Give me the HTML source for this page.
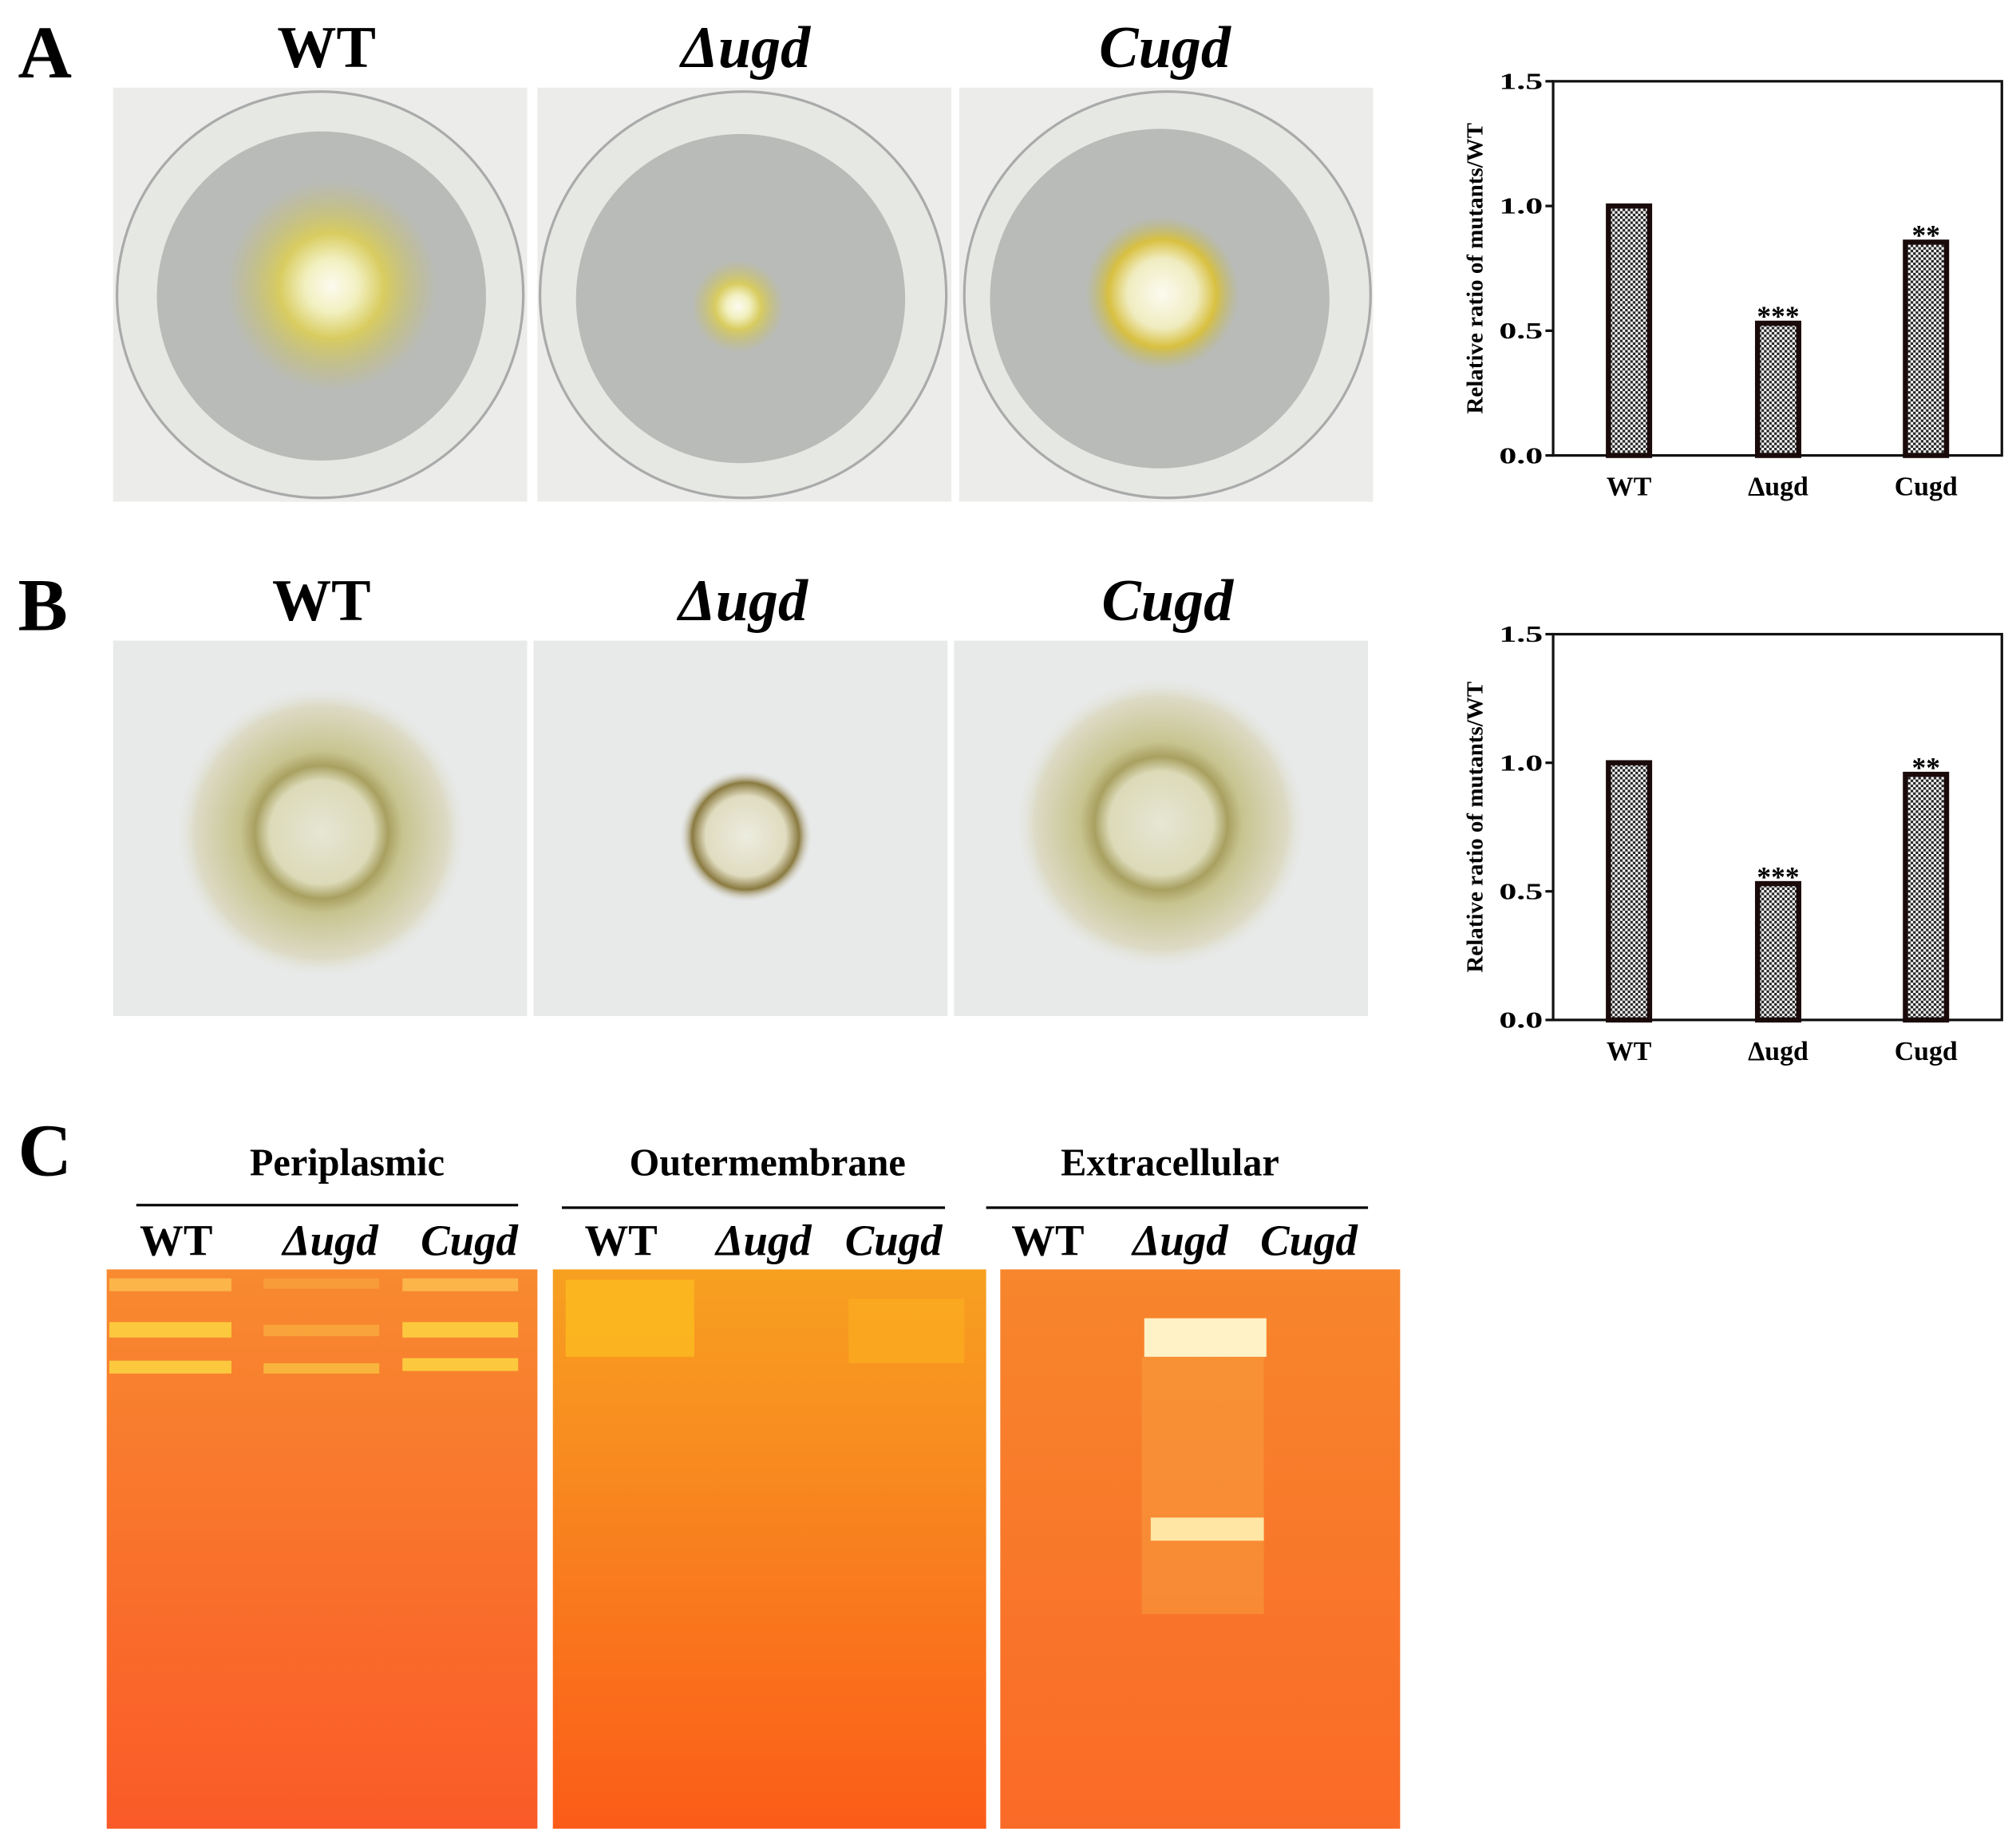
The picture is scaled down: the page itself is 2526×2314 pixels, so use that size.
<!DOCTYPE html>
<html><head><meta charset="utf-8"><style>
html,body{margin:0;padding:0;background:#fff;}
svg{display:block;}
text{font-family:"Liberation Serif",serif;font-weight:bold;}
</style></head><body>
<svg id="fig" width="2526" height="2314" viewBox="0 0 1568 1436" xmlns="http://www.w3.org/2000/svg">
<defs>
<pattern id="chk" width="4" height="4" patternUnits="userSpaceOnUse"><rect width="4" height="4" fill="#fff"/><rect width="2" height="2" fill="#222"/><rect x="2" y="2" width="2" height="2" fill="#222"/></pattern>
<radialGradient id="wtA"><stop offset="0" stop-color="#fbfbf0"/><stop offset="0.25" stop-color="#f2f0c0"/><stop offset="0.5" stop-color="#d8cc60"/><stop offset="1" stop-color="#c0bb6a" stop-opacity="0"/></radialGradient>
<radialGradient id="ringA"><stop offset="0" stop-color="#fbfbf0"/><stop offset="0.45" stop-color="#f0ecc0"/><stop offset="0.7" stop-color="#d8c040"/><stop offset="1" stop-color="#b8b870" stop-opacity="0"/></radialGradient>
<radialGradient id="colB"><stop offset="0" stop-color="#e6e6d4"/><stop offset="0.35" stop-color="#dcdab8"/><stop offset="0.45" stop-color="#a8a060"/><stop offset="0.55" stop-color="#c8c490"/><stop offset="0.85" stop-color="#dcdac4"/><stop offset="1" stop-color="#e8eaea" stop-opacity="0"/></radialGradient>
<radialGradient id="colB2"><stop offset="0" stop-color="#ecece0"/><stop offset="0.6" stop-color="#e0dcc0"/><stop offset="0.8" stop-color="#8a7a40"/><stop offset="1" stop-color="#e8eaea" stop-opacity="0"/></radialGradient>
<linearGradient id="gel1" x1="0" y1="0" x2="0" y2="1"><stop offset="0" stop-color="#f88a30"/><stop offset="1" stop-color="#fa5a28"/></linearGradient>
<linearGradient id="gel2" x1="0" y1="0" x2="0" y2="1"><stop offset="0" stop-color="#f7a020"/><stop offset="0.35" stop-color="#f88a20"/><stop offset="1" stop-color="#fb5c18"/></linearGradient>
<linearGradient id="gel3" x1="0" y1="0" x2="0" y2="1"><stop offset="0" stop-color="#f7862c"/><stop offset="1" stop-color="#fa6a28"/></linearGradient>
</defs>

<text x="14" y="60" font-size="58">A</text>
<text x="14" y="490" font-size="58">B</text>
<text x="14" y="914" font-size="58">C</text>

<text x="254" y="52" font-size="46" text-anchor="middle">WT</text>
<text x="580" y="52" font-size="46" text-anchor="middle" font-style="italic">Δugd</text>
<text x="906" y="52" font-size="46" text-anchor="middle" font-style="italic">Cugd</text>
<text x="250" y="482" font-size="46" text-anchor="middle">WT</text>
<text x="578" y="482" font-size="46" text-anchor="middle" font-style="italic">Δugd</text>
<text x="908" y="482" font-size="46" text-anchor="middle" font-style="italic">Cugd</text>

<g>
<rect x="88" y="68" width="322" height="322" fill="#ececea"/><circle cx="249" cy="229" r="158" fill="#e6e8e4" stroke="#aaa" stroke-width="2"/><circle cx="250" cy="230" r="128" fill="#b9bbb8"/><circle cx="258" cy="222" r="82" fill="url(#wtA)"/></g>
<g>
<rect x="418" y="68" width="322" height="322" fill="#ececea"/><circle cx="578" cy="229" r="158" fill="#e6e8e4" stroke="#aaa" stroke-width="2"/><circle cx="576" cy="232" r="128" fill="#b9bbb8"/><circle cx="574" cy="238" r="36" fill="url(#wtA)"/></g>
<g>
<rect x="746" y="68" width="322" height="322" fill="#ececea"/><circle cx="908" cy="229" r="158" fill="#e6e8e4" stroke="#aaa" stroke-width="2"/><circle cx="902" cy="232" r="132" fill="#b9bbb8"/><circle cx="904" cy="228" r="60" fill="url(#ringA)"/></g>

<g><rect x="88" y="498" width="322" height="292" fill="#e8eaea"/><circle cx="250" cy="647" r="115" fill="url(#colB)"/></g>
<g><rect x="415" y="498" width="322" height="292" fill="#e8eaea"/><circle cx="580" cy="650" r="52" fill="url(#colB2)"/></g>
<g><rect x="742" y="498" width="322" height="292" fill="#e8eaea"/><circle cx="903" cy="640" r="115" fill="url(#colB)"/></g>

<text x="270" y="914" font-size="30" text-anchor="middle">Periplasmic</text>
<text x="597" y="914" font-size="30" text-anchor="middle">Outermembrane</text>
<text x="910" y="914" font-size="30" text-anchor="middle">Extracellular</text>
<line x1="106" y1="937" x2="403" y2="937" stroke="#000" stroke-width="2"/>
<line x1="437" y1="939" x2="735" y2="939" stroke="#000" stroke-width="2"/>
<line x1="767" y1="939" x2="1064" y2="939" stroke="#000" stroke-width="2"/>
<g font-size="34">
<text x="137" y="976" text-anchor="middle">WT</text><text x="257" y="976" text-anchor="middle" font-style="italic">Δugd</text><text x="365" y="976" text-anchor="middle" font-style="italic">Cugd</text>
<text x="483" y="976" text-anchor="middle">WT</text><text x="594" y="976" text-anchor="middle" font-style="italic">Δugd</text><text x="695" y="976" text-anchor="middle" font-style="italic">Cugd</text>
<text x="815" y="976" text-anchor="middle">WT</text><text x="918" y="976" text-anchor="middle" font-style="italic">Δugd</text><text x="1018" y="976" text-anchor="middle" font-style="italic">Cugd</text>
</g>

<g>
<rect x="83" y="987" width="335" height="435" fill="url(#gel1)"/>
<rect x="85" y="994" width="95" height="10" fill="#fbc050" opacity="0.8"/><rect x="85" y="1028" width="95" height="12" fill="#fcd040" opacity="0.9"/><rect x="85" y="1058" width="95" height="10" fill="#fcd040" opacity="0.9"/>
<rect x="205" y="994" width="90" height="8" fill="#f8a840" opacity="0.6"/><rect x="205" y="1030" width="90" height="9" fill="#f8b040" opacity="0.7"/><rect x="205" y="1060" width="90" height="8" fill="#f8c040" opacity="0.8"/>
<rect x="313" y="994" width="90" height="10" fill="#fbc050" opacity="0.8"/><rect x="313" y="1028" width="90" height="12" fill="#fcd040" opacity="0.9"/><rect x="313" y="1056" width="90" height="10" fill="#fcd040" opacity="0.9"/>
</g>
<g>
<rect x="430" y="987" width="337" height="435" fill="url(#gel2)"/>
<rect x="440" y="995" width="100" height="60" fill="#fcc020" opacity="0.7"/><rect x="660" y="1010" width="90" height="50" fill="#fbb020" opacity="0.6"/>
</g>
<g>
<rect x="778" y="987" width="311" height="435" fill="url(#gel3)"/>
<rect x="890" y="1025" width="95" height="30" fill="#fff8d0" opacity="0.95"/><rect x="888" y="1055" width="95" height="200" fill="#f8a040" opacity="0.5"/>
<rect x="895" y="1180" width="88" height="18" fill="#fff0b0" opacity="0.9"/>
</g>

<g id="chartA"></g>
<g id="chartB"></g>
</svg>
<script>
const categories = ["WT", "Δugd", "Cugd"];
const valuesA = [1.0, 0.53, 0.855];
const valuesB = [1.0, 0.53, 0.955];
const sigA = ["", "***", "**"];
const sigB = ["", "***", "**"];
const tickValues = [0.0, 0.5, 1.0, 1.5];
const tickLabels = ["0.0", "0.5", "1.0", "1.5"];
const NS = "http://www.w3.org/2000/svg";
function mk(tag, attrs, parent) { const e = document.createElementNS(NS, tag); for (const k in attrs) e.setAttribute(k, attrs[k]); parent.appendChild(e); return e; }
function draw(g, vals, sig, top, bottom) {
  const left = 1208, right = 1557, yMax = 1.5;
  const y = v => bottom - (v / yMax) * (bottom - top);
  const xc = [1267, 1383, 1498];
  const x = i => xc[i];
  const frame = mk("rect", {x: left, y: top, width: right - left, height: bottom - top, fill: "none", stroke: "#111", "stroke-width": 2}, g);
  
  
  tickValues.forEach((t, i) => {
    mk("line", {x1: left - 6, x2: left, y1: y(t), y2: y(t), stroke: "#111", "stroke-width": 2}, g);
    const tl = mk("text", {x: left - 8, y: y(t) + 6, "font-size": 18, "text-anchor": "end", textLength: 34, lengthAdjust: "spacingAndGlyphs"}, g);
    tl.textContent = tickLabels[i];
    
    
  });
  const mid = (top + bottom) / 2;
  const yt = mk("text", {x: 1153, y: mid, "font-size": 18, "text-anchor": "middle", transform: "rotate(-90 1153 " + mid + ")"}, g);
  yt.textContent = "Relative ratio of mutants/WT";
  
  
  vals.forEach((v, i) => {
    const b = mk("rect", {x: x(i) - 16, y: y(v), width: 32, height: bottom - y(v), fill: "url(#chk)", stroke: "#1a0a0a", "stroke-width": 4}, g);
    
    
    const xl = mk("text", {x: x(i), y: bottom + 31, "font-size": 21, "text-anchor": "middle"}, g);
    xl.textContent = categories[i];
    
    
    if (sig[i]) {
      const s = mk("text", {x: x(i), y: y(v) + 2, "font-size": 22, "font-weight": "normal", "text-anchor": "middle"}, g);
      s.textContent = sig[i];
      
      
    }
  });
}
draw(document.getElementById("chartA"), valuesA, sigA, 63, 354);
draw(document.getElementById("chartB"), valuesB, sigB, 493, 793);
</script>
</body></html>
